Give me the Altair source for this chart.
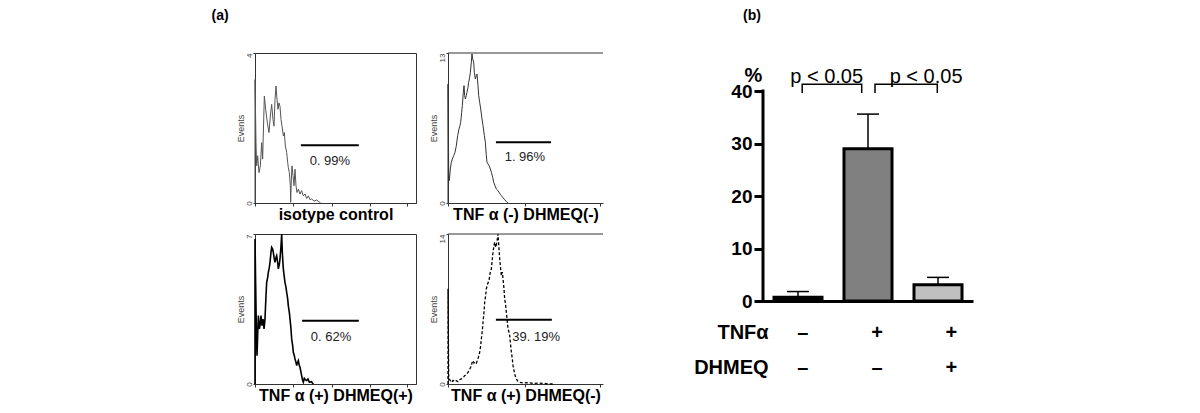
import math
import altair as alt
import pandas as pd

# ---------------- Panel (a): flow-cytometry histograms ----------------
# x: log10 fluorescence (decades), y: events
tl_x = [0, 0, 0.025, 0.041, 0.066, 0.099, 0.133, 0.166, 0.19, 0.232, 0.265, 0.306, 0.348, 0.381, 0.414, 0.447,
        0.472, 0.497, 0.522, 0.547, 0.571, 0.596, 0.621, 0.646, 0.671, 0.704, 0.729, 0.754, 0.787, 0.812, 0.828,
        0.853, 0.878, 0.886, 0.903, 0.919, 0.944, 0.969, 0.994, 1.019, 1.043, 1.077, 1.118, 1.159, 1.201, 1.242,
        1.284, 1.325, 1.366, 1.408, 1.466, 1.532, 1.582, 1.632]
tl_y = [0, 3.29, 1.61, 0.99, 1.26, 0.81, 0.99, 1.61, 1.17, 2.85, 2.5, 2.14, 1.88, 2.32, 2.63, 2.23,
        2.05, 2.76, 3.12, 2.76, 2.5, 2.67, 2.58, 2.23, 2.05, 1.79, 1.88, 1.52, 1.35, 1.08, 0.95,
        0.81, 0.46, 0.02, 0.64, 0.99, 0.73, 0.46, 0.9, 0.46, 0.28, 0.37, 0.24, 0.33, 0.19, 0.24,
        0.12, 0.19, 0.09, 0.11, 0.05, 0.08, 0.04, 0]

tr_x = [0, 0, 0.017, 0.033, 0.058, 0.083, 0.108, 0.141, 0.174, 0.207, 0.24, 0.273, 0.298, 0.315, 0.34, 0.356,
        0.381, 0.398, 0.414, 0.431, 0.455, 0.472, 0.497, 0.513, 0.538, 0.555, 0.58, 0.596, 0.613, 0.638, 0.654,
        0.679, 0.704, 0.72, 0.745, 0.762, 0.787, 0.812, 0.845, 0.87, 0.903, 0.928, 0.952, 0.969, 0.994, 1.019,
        1.052, 1.077, 1.11, 1.135, 1.168, 1.201, 1.234, 1.267, 1.3, 1.325, 1.366, 1.408, 1.449, 1.491]
tr_y = [0, 10.3, 2.66, 1.94, 2.95, 3.53, 3.82, 4.1, 4.39, 4.97, 5.84, 6.42, 6.71, 6.99, 7.86, 8.44,
        9.6, 10.17, 9.31, 9.02, 9.31, 9.6, 10.03, 10.46, 10.9, 11.33, 12.2, 12.92, 12.49, 12.2, 11.33,
        10.75, 11.04, 11.18, 10.17, 9.31, 8.73, 8.15, 7.28, 6.71, 5.84, 5.26, 4.1, 3.53, 3.38, 3.24,
        2.95, 2.66, 2.23, 1.79, 1.5, 1.21, 1.1, 0.92, 0.75, 0.64, 0.46, 0.29, 0.12, 0]

bl_x = [0, 0, 0.017, 0.033, 0.05, 0.066, 0.083, 0.108, 0.124, 0.149, 0.174, 0.199, 0.224, 0.248, 0.273, 0.29,
        0.315, 0.331, 0.356, 0.373, 0.397, 0.414, 0.439, 0.455, 0.48, 0.497, 0.522, 0.538, 0.563, 0.58, 0.605,
        0.621, 0.646, 0.663, 0.679, 0.704, 0.729, 0.745, 0.77, 0.787, 0.812, 0.828, 0.853, 0.87, 0.894, 0.911,
        0.936, 0.952, 0.977, 0.994, 1.019, 1.035, 1.06, 1.077, 1.101, 1.118, 1.143, 1.159, 1.184, 1.201, 1.226,
        1.25, 1.284, 1.317, 1.35, 1.4, 1.449]
bl_y = [0, 6.77, 4.59, 2.57, 1.32, 2.26, 3.19, 2.57, 2.72, 3.19, 2.72, 3.03, 2.57, 3.03, 4.12, 4.74,
        4.98, 5.21, 5.44, 5.68, 6.14, 6.38, 6.3, 6.14, 5.83, 5.68, 5.91, 5.99, 5.68, 5.37, 5.6,
        5.83, 6.45, 7.0, 6.14, 5.37, 4.98, 4.74, 4.51, 4.28, 3.97, 3.65, 3.34, 3.03, 2.57, 2.1,
        1.79, 1.48, 1.32, 1.17, 1.01, 0.86, 1.01, 1.09, 0.86, 0.78, 0.54, 0.39, 0.16, 0.08, 0.26,
        0.2, 0.16, 0.23, 0.08, 0.11, 0]

br_x = [0, 0, 0.017, 0.033, 0.058, 0.091, 0.124, 0.166, 0.207, 0.248, 0.29, 0.331, 0.373, 0.414, 0.455, 0.497,
        0.538, 0.58, 0.605, 0.621, 0.646, 0.671, 0.704, 0.729, 0.754, 0.787, 0.812, 0.828, 0.853, 0.87, 0.894,
        0.911, 0.936, 0.952, 0.986, 1.019, 1.043, 1.077, 1.101, 1.118, 1.143, 1.159, 1.184, 1.201, 1.226, 1.242,
        1.267, 1.284, 1.308, 1.325, 1.35, 1.366, 1.391, 1.408, 1.433, 1.449, 1.474, 1.491, 1.516, 1.532, 1.557,
        1.574, 1.598, 1.615, 1.64, 1.656, 1.681, 1.698, 1.739, 1.781, 1.863, 1.988, 2.112, 2.277, 2.443, 2.609]
br_y = [0, 8.88, 0.78, 0.47, 0.31, 0.16, 0.34, 0.22, 0.31, 0.22, 0.4, 0.47, 0.59, 0.78, 0.9, 1.09,
        1.34, 1.71, 2.09, 2.18, 1.96, 2.09, 1.96, 2.18, 2.49, 2.96, 3.58, 4.21, 4.98, 5.76, 6.7,
        7.63, 8.26, 8.88, 9.35, 9.66, 10.28, 10.75, 11.68, 12.31, 12.93, 13.24, 12.77, 12.93, 13.55, 14.0,
        12.62, 11.68, 10.75, 10.12, 10.44, 9.81, 8.88, 7.94, 7.32, 6.7, 5.76, 5.14, 4.83, 4.52, 3.58,
        2.96, 2.34, 1.71, 1.25, 0.93, 0.62, 0.47, 0.25, 0.16, 0.09, 0.12, 0.06, 0.09, 0.03, 0]

hist_titles = ["isotype control", "TNF \u03b1 (-) DHMEQ(-)", "TNF \u03b1 (+) DHMEQ(+)", "TNF \u03b1 (+) DHMEQ(-)"]
hist_ymax = [4, 13, 7, 14]
gate_lo = [1.14, 1.19, 1.17, 1.19]
gate_hi = [2.58, 2.56, 2.58, 2.58]
gate_y = [1.54, 5.26, 2.95, 6.0]
pct_labels = ["0. 99%", "1. 96%", "0. 62%", "39. 19%"]
pct_x = [1.86, 1.91, 1.89, 2.19]
pct_y = [1.11, 3.99, 2.19, 4.39]

# ---------------- Panel (b): bar chart ----------------
groups = [1, 2, 3]
means = [0.7, 29.0, 3.1]
upper = [1.8, 35.6, 4.5]
bar_fill = ["#000000", "#808080", "#c0c0c0"]
tnf_signs = ["\u2013", "+", "+"]
dhmeq_signs = ["\u2013", "\u2013", "+"]
row_names = ["TNF\u03b1", "DHMEQ"]
p_texts = ["p < 0.05", "p < 0.05"]

FONT = "Liberation Sans"
minor_ticks = [math.log10(m * 10 ** k) for k in range(4) for m in range(1, 10)] + [4.0]


def histogram(k, xs, ys, xmax, width, boxed, color, sw, dash=None):
    ymax = hist_ymax[k]
    df = pd.DataFrame({"x": xs, "y": ys, "i": list(range(len(xs)))})
    xscale = alt.Scale(domain=[0, xmax], nice=False, zero=False)
    yscale = alt.Scale(domain=[0, ymax], nice=False)
    xaxis = alt.Axis(title=hist_titles[k], values=[v for v in minor_ticks if v <= xmax], labels=False,
                     tickSize=3, tickColor="#333", domainColor="#333", grid=False,
                     titleFont=FONT, titleFontSize=16, titleFontWeight="bold", titleColor="black",
                     titlePadding=0)
    yaxis = alt.Axis(title="Events", values=[0, ymax], labelAngle=-90, labelFontSize=8, labelFont=FONT,
                     labelColor="#444", labelFlush=False, labelPadding=0, tickSize=2, tickColor="#333",
                     labelAlign={"condition": {"test": "datum.value == 0", "value": "center"}, "value": "right"},
                     domainColor="#333", grid=False, titleFont=FONT, titleFontSize=9,
                     titleFontWeight="normal", titleColor="#444", titlePadding=0)
    line_kw = dict(color=color, strokeWidth=sw)
    if dash:
        line_kw["strokeDash"] = dash
    line = alt.Chart(df).mark_line(**line_kw).encode(
        x=alt.X("x:Q", scale=xscale, axis=xaxis),
        y=alt.Y("y:Q", scale=yscale, axis=yaxis),
        order="i:Q",
    )
    gdf = pd.DataFrame({"g1": [gate_lo[k]], "g2": [gate_hi[k]], "gy": [gate_y[k]],
                        "tx": [pct_x[k]], "ty": [pct_y[k]], "lab": [pct_labels[k]]})
    gate = alt.Chart(gdf).mark_rule(color="black", strokeWidth=2).encode(
        x=alt.X("g1:Q", scale=xscale), x2="g2:Q", y=alt.Y("gy:Q", scale=yscale))
    txt = alt.Chart(gdf).mark_text(font=FONT, fontSize=13, color="#222").encode(
        x=alt.X("tx:Q", scale=xscale), y=alt.Y("ty:Q", scale=yscale), text="lab:N")
    layers = [line, gate, txt]
    if not boxed:
        tdf = pd.DataFrame({"a": [0], "b": [xmax], "c": [ymax]})
        top = alt.Chart(tdf).mark_rule(color="#333", strokeWidth=1).encode(
            x=alt.X("a:Q", scale=xscale), x2="b:Q", y=alt.Y("c:Q", scale=yscale))
        layers.append(top)
    view = alt.ViewBackground(stroke="#333" if boxed else "transparent", strokeWidth=1)
    return alt.layer(*layers).properties(width=width, height=150, view=view)


h1 = histogram(0, tl_x, tl_y, 4.0, 161, True, "#555", 1)
h2 = histogram(1, tr_x, tr_y, 3.85, 155, False, "#333", 1)
h3 = histogram(2, bl_x, bl_y, 4.0, 161, True, "#000", 1.6)
h4 = histogram(3, br_x, br_y, 3.85, 155, False, "#000", 1.3, dash=[3, 2])

left = alt.vconcat(
    alt.hconcat(h1, h2, spacing=11),
    alt.hconcat(h3, h4, spacing=11),
    spacing=7,
).properties(title=alt.TitleParams("(a)", anchor="start", font=FONT, fontSize=14, fontWeight="bold",
                                   dx=-24, offset=28))

# ---------------- bar chart ----------------
bdf = pd.DataFrame({"g": groups, "m": means, "u": upper, "f": bar_fill})
xs = alt.Scale(domain=[0.5, 3.5], nice=False, zero=False)
ys = alt.Scale(domain=[0, 47.24], nice=False)
yaxis_b = alt.Axis(values=[0, 10, 20, 30, 40], labelFont=FONT, labelFontSize=19, labelFontWeight="bold",
                   labelColor="black", labelPadding=2, tickSize=9, tickWidth=3, tickColor="black",
                   domain=False, grid=False, title="%", titleAngle=0,
                   titleFont=FONT, titleFontSize=20, titleFontWeight="bold", titleColor="black",
                   titleAlign="center", titleBaseline="alphabetic", titleX=-10, titleY=28)
xaxis_b = alt.Axis(labels=False, ticks=False, title=None, domainWidth=3, domainColor="black", grid=False)

base = alt.Chart(bdf).transform_calculate(
    lo="datum.g - 0.343", hi="datum.g + 0.343", clo="datum.g - 0.157", chi="datum.g + 0.157")
err = base.mark_rule(color="black", strokeWidth=1.5).encode(
    x=alt.X("g:Q", scale=xs, axis=xaxis_b), y=alt.Y("m:Q", scale=ys, axis=yaxis_b), y2="u:Q")
cap = base.mark_rule(color="black", strokeWidth=1.5).encode(
    x=alt.X("clo:Q", scale=xs), x2="chi:Q", y=alt.Y("u:Q", scale=ys))
bars = base.mark_bar(stroke="black", strokeWidth=3).encode(
    x=alt.X("lo:Q", scale=xs), x2="hi:Q", y=alt.Y("m:Q", scale=ys), y2=alt.datum(0),
    fill=alt.Fill("f:N", scale=None))
ydomain = alt.Chart(pd.DataFrame({"a": [0.5], "lo": [0], "hi": [40]})).mark_rule(
    color="black", strokeWidth=3, strokeCap="square").encode(
    x=alt.X("a:Q", scale=xs), y=alt.Y("lo:Q", scale=ys), y2="hi:Q")

# significance brackets (between groups 1-2 and 2-3)
br_rows = []
bracket_ends = [(1.06, 1.91), (2.10, 2.99)]
for b, (a, c) in enumerate(bracket_ends):
    for o, (px, py) in enumerate([(a, 39.6), (a, 41.3), (c, 41.3), (c, 39.6)]):
        br_rows.append({"b": b, "o": o, "x": px, "y": py})
brdf = pd.DataFrame(br_rows)
brackets = alt.Chart(brdf).mark_line(color="black", strokeWidth=1.5).encode(
    x=alt.X("x:Q", scale=xs), y=alt.Y("y:Q", scale=ys), detail="b:N", order="o:Q")
pdf = pd.DataFrame({"t": p_texts, "x": [1.41, 2.83], "y": [41.6, 41.6]})
ptext = alt.Chart(pdf).mark_text(font=FONT, fontSize=20, baseline="alphabetic", color="black").encode(
    x=alt.X("x:Q", scale=xs), y=alt.Y("y:Q", scale=ys), text="t:N")

# treatment table below the bars
sign_rows = []
for i, g in enumerate(groups):
    sign_rows.append({"g": g, "row": 0, "s": tnf_signs[i]})
    sign_rows.append({"g": g, "row": 1, "s": dhmeq_signs[i]})
sdf = pd.DataFrame(sign_rows)
signs = alt.Chart(sdf).transform_calculate(
    sx="datum.g * 1.06 + 0.01", sy="datum.row == 0 ? -6.1 : -12.8"
).mark_text(font=FONT, fontSize=20, fontWeight="bold", color="black", baseline="middle").encode(
    x=alt.X("sx:Q", scale=xs), y=alt.Y("sy:Q", scale=ys), text="s:N")
rdf = pd.DataFrame({"n": row_names, "y": [-6.1, -12.8], "x": [0.58, 0.58]})
rows = alt.Chart(rdf).mark_text(font=FONT, fontSize=20, fontWeight="bold", color="black",
                                align="right", baseline="middle").encode(
    x=alt.X("x:Q", scale=xs), y=alt.Y("y:Q", scale=ys), text="n:N")

right = alt.layer(err, cap, bars, ydomain, brackets, ptext, signs, rows).properties(
    width=210, height=248, view=alt.ViewBackground(stroke="transparent"),
    title=alt.TitleParams("(b)", anchor="start", frame="group", font=FONT, fontSize=14, fontWeight="bold",
                          dx=-20, offset=30))

chart = alt.hconcat(left, right, spacing=89).properties(
    padding={"left": 203, "top": 0, "right": 5, "bottom": 0}
).configure(font=FONT)

chart.save("out.html", embed_options={"renderer": "svg", "actions": False})
